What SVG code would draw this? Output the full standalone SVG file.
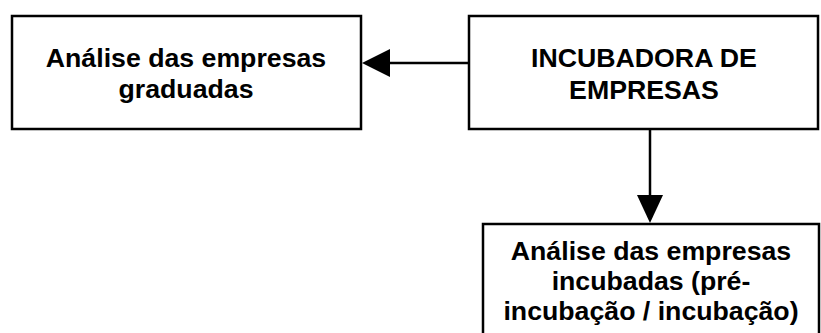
<svg xmlns="http://www.w3.org/2000/svg" width="821" height="333" viewBox="0 0 821 333">
<style>
.box{fill:#fff;stroke:#000;stroke-width:2.5}
.t{font-family:"Liberation Sans",Arial,sans-serif;font-weight:bold;font-size:26.7px;fill:#000;text-anchor:middle}
.c{stroke:#000;stroke-width:2.5;fill:none}
</style>
<rect width="821" height="333" fill="#fff"/>
<g id="connectors">
<line class="c" x1="469" y1="63" x2="390" y2="63"/>
<polygon points="390,49 390,77 362,63" fill="#000"/>
<line class="c" x1="650" y1="129" x2="650" y2="196"/>
<polygon points="637,195 663,195 650,223" fill="#000"/>
</g>
<g id="graduadas">
<rect class="box" x="12" y="16" width="349" height="113"/>
<text class="t" x="186" y="67">Análise das empresas</text>
<text class="t" x="186" y="98">graduadas</text>
</g>
<g id="incubadora">
<rect class="box" x="469" y="16" width="349" height="113"/>
<text class="t" x="644" y="67">INCUBADORA DE</text>
<text class="t" x="644" y="99">EMPRESAS</text>
</g>
<g id="incubadas">
<rect class="box" x="483" y="224" width="336" height="120"/>
<text class="t" x="651" y="260">Análise das empresas</text>
<text class="t" x="651" y="290">incubadas (pré-</text>
<text class="t" x="651" y="320">incubação / incubação)</text>
</g>
</svg>
